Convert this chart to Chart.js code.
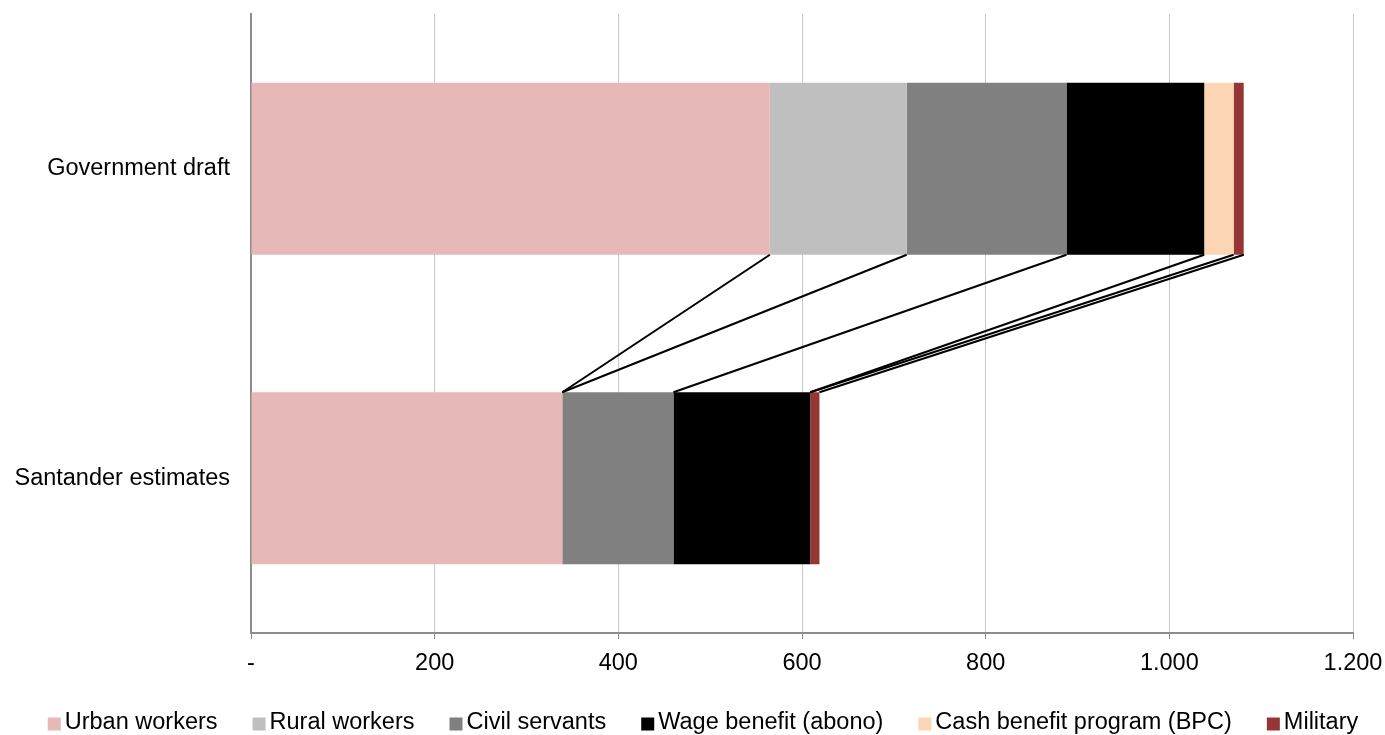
<!DOCTYPE html>
<html>
<head>
<meta charset="utf-8">
<script src="https://cdn.jsdelivr.net/npm/chart.js@4/dist/chart.umd.min.js"></script>
<style>
html,body{margin:0;padding:0;background:#fff;}
#wrap{width:1385px;height:735px;position:relative;}
</style>
</head>
<body>
<div id="wrap"><canvas id="c"></canvas></div>
<script>
const categories = ['Government draft', 'Santander estimates'];
const seriesNames = ['Urban workers', 'Rural workers', 'Civil servants', 'Wage benefit (abono)', 'Cash benefit program (BPC)', 'Military'];
const urbanWorkers = [565, 339];
const ruralWorkers = [149, 0];
const civilServants = [174, 121];
const wageBenefit = [150, 149];
const cashBenefit = [32, 0];
const military = [11, 10];
const xTickValues = [0, 200, 400, 600, 800, 1000, 1200];
const xTickLabels = ['-', '200', '400', '600', '800', '1.000', '1.200'];

const colors = ['#e6b8b7', '#bfbfbf', '#808080', '#000000', '#fcd5b4', '#963634'];
const seriesValues = [urbanWorkers, ruralWorkers, civilServants, wageBenefit, cashBenefit, military];
const FONT = "'Liberation Sans', Arial, sans-serif";
const FS = 23.5;

const datasets = seriesNames.map((n, i) => ({
  label: n,
  data: seriesValues[i],
  backgroundColor: colors[i],
  borderWidth: 0,
  categoryPercentage: 0.556,
  barPercentage: 1.0
}));

const connectorPlugin = {
  id: 'connectors',
  afterDatasetsDraw(chart) {
    const ctx = chart.ctx;
    const xs = chart.scales.x;
    const metas = chart.data.datasets.map((d, i) => chart.getDatasetMeta(i));
    const top0 = metas[0].data[0];
    const bot1 = metas[0].data[1];
    const y0 = top0.y + top0.height / 2;
    const y1 = bot1.y - bot1.height / 2;
    let c0 = 0, c1 = 0;
    ctx.save();
    ctx.strokeStyle = '#000';
    ctx.lineWidth = 2;
    for (let i = 0; i < seriesValues.length; i++) {
      c0 += seriesValues[i][0];
      c1 += seriesValues[i][1];
      ctx.beginPath();
      ctx.moveTo(xs.getPixelForValue(c0), y0);
      ctx.lineTo(xs.getPixelForValue(c1), y1);
      ctx.stroke();
    }
    ctx.restore();
  }
};

const legendPlugin = {
  id: 'customLegend',
  afterDraw(chart) {
    const ctx = chart.ctx;
    ctx.save();
    ctx.font = FS + 'px ' + FONT;
    const box = 13, gap = 4, spacing = 35;
    const widths = seriesNames.map(n => ctx.measureText(n).width);
    let total = widths.reduce((a, b) => a + b, 0) + seriesNames.length * (box + gap) + (seriesNames.length - 1) * spacing;
    let x = 703 - total / 2;
    const yc = 723;
    ctx.textBaseline = 'middle';
    ctx.textAlign = 'left';
    seriesNames.forEach((n, i) => {
      ctx.fillStyle = colors[i];
      ctx.fillRect(x, yc - box / 2 + 1, box, box);
      x += box + gap;
      ctx.fillStyle = '#000';
      ctx.fillText(n, x, yc);
      x += widths[i] + spacing;
    });
    ctx.restore();
  }
};

new Chart(document.getElementById('c'), {
  type: 'bar',
  data: { labels: categories, datasets },
  plugins: [connectorPlugin, legendPlugin],
  options: {
    indexAxis: 'y',
    responsive: true,
    maintainAspectRatio: false,
    animation: false,
    layout: { padding: { top: 14, right: 32, left: 0, bottom: 0 } },
    plugins: {
      legend: { display: false },
      tooltip: { enabled: false },
      title: { display: false }
    },
    scales: {
      x: {
        stacked: true,
        min: 0,
        max: 1200,
        afterBuildTicks(scale) {
          scale.ticks = xTickValues.map(v => ({ value: v }));
        },
        afterFit(scale) {
          scale.height = 102;
          scale.paddingLeft = 0; scale.paddingRight = 0;
          scale.paddingTop = 0; scale.paddingBottom = 0;
        },
        ticks: {
          autoSkip: false,
          maxRotation: 0,
          padding: 10,
          color: '#000',
          font: { family: FONT, size: FS },
          callback(value) {
            const idx = xTickValues.indexOf(value);
            return idx >= 0 ? xTickLabels[idx] : '';
          }
        },
        grid: {
          display: true,
          color: '#c8c8c8',
          lineWidth: 1,
          drawTicks: true,
          tickLength: 6,
          tickColor: '#8c8c8c'
        },
        border: { display: true, color: '#8c8c8c', width: 2 }
      },
      y: {
        stacked: true,
        afterFit(scale) {
          scale.width = 251;
          scale.paddingLeft = 0; scale.paddingRight = 0;
          scale.paddingTop = 0; scale.paddingBottom = 0;
        },
        ticks: {
          padding: 21,
          color: '#000',
          font: { family: FONT, size: FS }
        },
        grid: { display: false, drawTicks: false },
        border: { display: true, color: '#8c8c8c', width: 2 }
      }
    }
  }
});
</script>
</body>
</html>
